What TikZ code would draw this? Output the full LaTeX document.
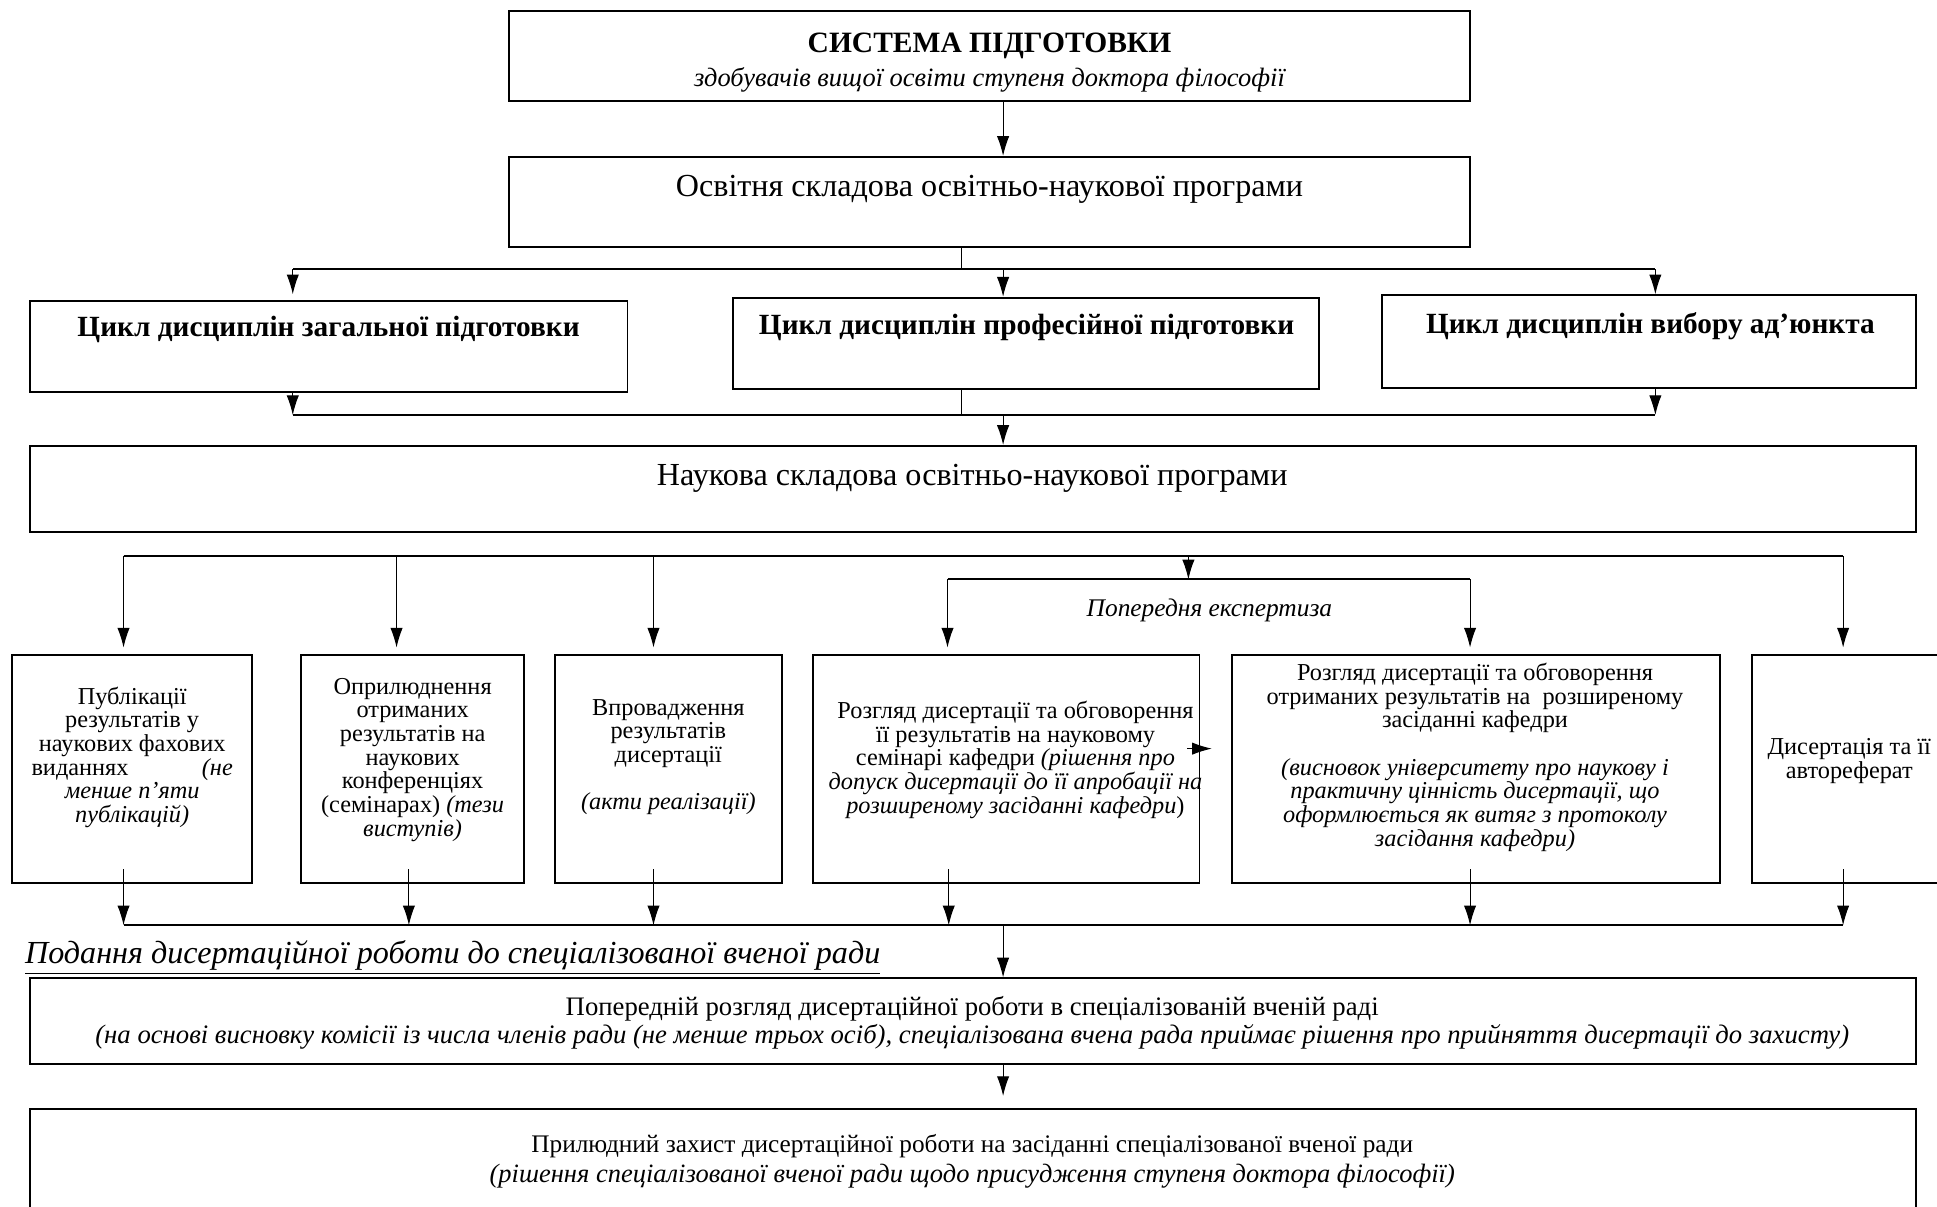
\documentclass[tikz,border=0pt]{standalone}
\usepackage{fontspec}
\setmainfont{Liberation Serif}
\usepackage{tikz}
\usetikzlibrary{shapes,arrows,arrows.meta,positioning,fit}

\begin{document}
\begin{tikzpicture}[x=0.02cm, y=-0.02cm]
			\tikzstyle{Box}		= [draw, rectangle, line width=0.9pt, inner sep=0pt]
			\tikzstyle{Small}	= [align=center, inner sep=0pt, font=\fontsize{11.2}{10.9}\selectfont]
			\tikzstyle{Wide}	= [align=center, inner sep=0pt, font=\fontsize{12.3}{13}\selectfont]
			\tikzstyle{Big}		= [align=center, inner sep=0pt, font=\fontsize{14.8}{18}\selectfont]
			\tikzstyle{Cycle}	= [align=center, inner sep=0pt, font=\fontsize{13.5}{16}\selectfont\bfseries]
			\tikzstyle{Arrow}	= [-{Latex[length=0.32cm, width=0.2cm]}, line width=0.5pt]
			\tikzstyle{Gap}		= [shorten >=0.1cm]
			\tikzstyle{Line}	= [line width=0.5pt]
			\tikzstyle{Bus}		= [line width=1pt]

			\useasboundingbox (0, 0) rectangle (1568, 977);
			\clip (0, 0) rectangle (1568, 977);

			\node (sys) at (801, 45.5) [Box, minimum width=15.56cm, minimum height=1.46cm] {};
			\node (sysT) at (801, 37) [Cycle, font=\fontsize{13.6}{16}\selectfont\bfseries] {СИСТЕМА ПІДГОТОВКИ};
			\node (sysS) at (801, 65) [Wide, font=\fontsize{12.2}{14}\selectfont\itshape] {здобувачів вищої освіти ступеня доктора філософії};

			\node (osv) at (801, 163.5) [Box, minimum width=15.56cm, minimum height=1.46cm] {};
			\node (osvT) at (801, 153) [Big] {Освітня складова освітньо-наукової програми};

			\node (zag) at (266, 280.5) [Box, minimum width=9.68cm, minimum height=1.46cm] {};
			\node (zagT) at (266, 267) [Cycle] {Цикл дисциплін загальної підготовки};
			\node (prof) at (830.5, 278) [Box, minimum width=9.5cm, minimum height=1.48cm] {};
			\node (profT) at (831, 265) [Cycle] {Цикл дисциплін професійної підготовки};
			\node (vyb) at (1335, 276.5) [Box, minimum width=8.64cm, minimum height=1.5cm] {};
			\node (vybT) at (1336, 264) [Cycle] {Цикл дисциплін вибору ад’юнкта};

			\node (nauk) at (787.5, 396) [Box, minimum width=30.54cm, minimum height=1.4cm] {};
			\node (naukT) at (787, 387) [Big] {Наукова складова освітньо-наукової програми};

			\node (p1) at (107, 622.5) [Box, minimum width=3.88cm, minimum height=3.7cm] {};
			\node (p1T) at (107, 613) [Small] {Публікації\\результатів у\\наукових фахових\\\makebox[3.26cm]{виданнях\hfill\textit{(не}}\\\textit{менше п’яти}\\\textit{публікацій)}};
			\node (p2) at (334, 622.5) [Box, minimum width=3.6cm, minimum height=3.7cm] {};
			\node (p2T) at (334, 615) [Small] {Оприлюднення\\отриманих\\результатів на\\наукових\\конференціях\\(семінарах) \textit{(тези}\\\textit{виступів)}};
			\node (p3) at (541, 622.5) [Box, minimum width=3.68cm, minimum height=3.7cm] {};
			\node (p3T) at (541, 613) [Small] {Впровадження\\результатів\\дисертації\\[10.9pt]\textit{(акти реалізації)}};
			\node (p4) at (814.5, 622.5) [Box, minimum width=6.26cm, minimum height=3.7cm] {};
			\node (p4T) at (822, 615) [Small] {Розгляд дисертації та обговорення\\її результатів на науковому\\семінарі кафедри \textit{(рішення про}\\\textit{допуск дисертації до її апробації на}\\\textit{розширеному засіданні кафедри})};
			\node (p5) at (1194.5, 622.5) [Box, minimum width=7.9cm, minimum height=3.7cm] {};
			\node (p5T) at (1194, 613) [Small] {Розгляд дисертації та обговорення\\отриманих результатів на\ \ розширеному\\засіданні кафедри\\[10.9pt]\textit{(висновок університету про наукову і}\\\textit{практичну цінність дисертації, що}\\\textit{оформлюється як витяг з протоколу}\\\textit{засідання кафедри)}};
			\node (p6) at (1497, 622.5) [Box, minimum width=3.16cm, minimum height=3.7cm] {};
			\node (p6T) at (1497, 616) [Small] {Дисертація та її\\автореферат};

			\node (exp) at (979, 494) [Wide, font=\fontsize{11.7}{14}\selectfont\itshape] {Попередня експертиза};
			\node (pod) at (20, 780) [Big, anchor=base west, font=\fontsize{14.8}{18}\selectfont\itshape] {\underline{Подання дисертаційної роботи до спеціалізованої вченої ради}};

			\node (rozgl) at (787.5, 826.5) [Box, minimum width=30.54cm, minimum height=1.38cm] {};
			\node (rozglT) at (787, 828) [Wide] {Попередній розгляд дисертаційної роботи в спеціалізованій вченій раді\\\textit{(на основі висновку комісії із числа членів ради (не менше трьох осіб), спеціалізована вчена рада приймає рішення про прийняття дисертації до захисту)}};
			\node (zahyst) at (787.5, 953) [Box, minimum width=30.54cm, minimum height=2.2cm] {};
			\node (zahystT) at (787, 940) [Wide, font=\fontsize{12.2}{13.6}\selectfont] {{\fontsize{11.65}{13.6}\selectfont Прилюдний захист дисертаційної роботи на засіданні спеціалізованої вченої ради}\\\textit{(рішення спеціалізованої вченої ради щодо присудження ступеня доктора філософії)}};

			\draw [Arrow] (sys.south -| 812, 0) to (osv.north -| 812, 0);

			\coordinate (b1) at (778, 218);
			\coordinate (b1l) at (237, 218);
			\coordinate (b1m) at (812, 218);
			\coordinate (b1r) at (1340, 218);
			\draw [Line] (osv.south -| b1) to (b1);
			\draw [Bus] (b1l) to (b1r);
			\draw [Arrow, Gap] (b1l) to (b1l |- zag.north);
			\draw [Arrow] (b1m) to (b1m |- prof.north);
			\draw [Arrow] (b1r) to (b1r |- vyb.north);

			\coordinate (b2l) at (237, 336);
			\coordinate (b2m) at (778, 336);
			\coordinate (b2c) at (812, 336);
			\coordinate (b2r) at (1340, 336);
			\draw [Arrow] (zag.south -| b2l) to (b2l);
			\draw [Line] (prof.south -| b2m) to (b2m);
			\draw [Arrow] (vyb.south -| b2r) to (b2r);
			\draw [Bus] (b2l) to (b2r);
			\draw [Arrow] (b2c) to (b2c |- nauk.north);

			\coordinate (t1) at (100, 450);
			\coordinate (t2) at (321, 450);
			\coordinate (t3) at (529, 450);
			\coordinate (t6) at (1492, 450);
			\coordinate (b4) at (962, 450);
			\coordinate (b4m) at (962, 469);
			\coordinate (b4l) at (767, 469);
			\coordinate (b4r) at (1190, 469);
			\draw [Bus] (t1) to (t6);
			\draw [Arrow, Gap] (t1) to (t1 |- p1.north);
			\draw [Arrow, Gap] (t2) to (t2 |- p2.north);
			\draw [Arrow, Gap] (t3) to (t3 |- p3.north);
			\draw [Arrow, Gap] (t6) to (t6 |- p6.north);
			\draw [Arrow] (b4) to (b4m);
			\draw [Bus] (b4l) to (b4r);
			\draw [Arrow, Gap] (b4l) to (b4l |- p4.north);
			\draw [Arrow, Gap] (b4r) to (b4r |- p5.north);

			\coordinate (s1) at (961, 606);
			\coordinate (s2) at (981, 606);
			\draw [Arrow] (s1) to (s2);

			\coordinate (q1) at (100, 749);
			\coordinate (q2) at (331, 749);
			\coordinate (q3) at (529, 749);
			\coordinate (q4) at (768, 749);
			\coordinate (q5) at (1190, 749);
			\coordinate (q6) at (1492, 749);
			\coordinate (q0) at (812, 749);
			\draw [Arrow] (q1 |- p1.south) ++(0, -12) to (q1);
			\draw [Arrow] (q2 |- p2.south) ++(0, -12) to (q2);
			\draw [Arrow] (q3 |- p3.south) ++(0, -12) to (q3);
			\draw [Arrow] (q4 |- p4.south) ++(0, -12) to (q4);
			\draw [Arrow] (q5 |- p5.south) ++(0, -12) to (q5);
			\draw [Arrow] (q6 |- p6.south) ++(0, -12) to (q6);
			\draw [Bus] (q1) to (q6);
			\draw [Arrow] (q0) to (q0 |- rozgl.north);
			\draw [Arrow, shorten >=0.2cm] (rozgl.south -| q0) to (zahyst.north -| q0);
\end{tikzpicture}
\end{document}
